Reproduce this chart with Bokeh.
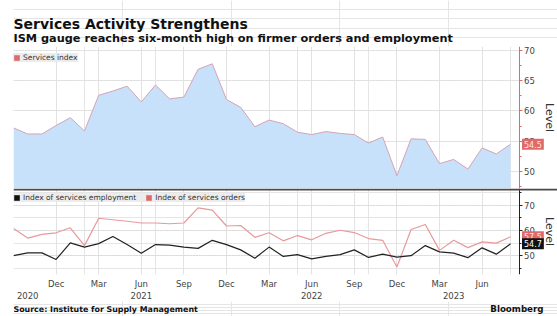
import math
from bokeh.plotting import figure
from bokeh.models import (LinearAxis, FixedTicker, Grid, Label, Legend, LegendItem,
                          Range1d, ColumnDataSource, BoxAnnotation, Span)
from bokeh.layouts import column
from bokeh.embed import file_html
from bokeh.resources import INLINE

# ---------------- data (monthly, Sep 2020 .. Aug 2023) ----------------
months = ["2020-09", "2020-10", "2020-11", "2020-12",
          "2021-01", "2021-02", "2021-03", "2021-04", "2021-05", "2021-06",
          "2021-07", "2021-08", "2021-09", "2021-10", "2021-11", "2021-12",
          "2022-01", "2022-02", "2022-03", "2022-04", "2022-05", "2022-06",
          "2022-07", "2022-08", "2022-09", "2022-10", "2022-11", "2022-12",
          "2023-01", "2023-02", "2023-03", "2023-04", "2023-05", "2023-06",
          "2023-07", "2023-08"]

services_index = [57.2, 56.2, 56.2, 57.6,
                  58.9, 56.7, 62.6, 63.3, 64.1, 61.5, 64.3, 62.0, 62.3, 66.9, 67.8, 61.9,
                  60.6, 57.4, 58.5, 57.9, 56.5, 56.1, 56.6, 56.3, 56.1, 54.7, 55.7, 49.3,
                  55.4, 55.3, 51.3, 52.0, 50.4, 53.9, 52.9, 54.5]

services_employment = [50.0, 51.1, 51.1, 48.5,
                       55.1, 53.4, 54.8, 57.6, 54.4, 51.0, 54.4, 54.2, 53.4, 52.9, 56.1, 54.4,
                       52.3, 49.0, 53.4, 49.7, 50.4, 48.7, 49.7, 50.4, 52.3, 49.3, 50.6, 49.4,
                       50.0, 54.0, 51.5, 51.0, 49.2, 53.1, 50.6, 54.7]

services_orders = [60.8, 57.0, 58.5, 59.1,
                   61.1, 54.0, 64.9, 64.3, 63.7, 63.0, 63.0, 62.7, 63.0, 69.0, 68.1, 61.8,
                   62.0, 57.3, 59.1, 55.9, 58.0, 56.3, 58.9, 60.1, 59.2, 56.8, 56.1, 45.5,
                   60.4, 62.4, 52.1, 56.1, 53.2, 55.5, 55.0, 57.5]

month_tick_labels = ["Dec", "Mar", "Jun", "Sep", "Dec", "Mar", "Jun", "Sep", "Dec", "Mar", "Jun"]
month_tick_months = ["2020-12", "2021-03", "2021-06", "2021-09", "2021-12", "2022-03",
                     "2022-06", "2022-09", "2022-12", "2023-03", "2023-06"]
year_labels = ["2020", "2021", "2022", "2023"]
year_label_months = ["2020-10", "2021-06", "2022-06", "2023-04"]

top_ticks = [50, 55, 60, 65, 70]
top_minor = [47.5, 52.5, 57.5, 62.5, 67.5]
bottom_ticks = [50, 60, 70]
bottom_minor = [45, 55, 65, 75]

# ---------------- styling ----------------
FONT = "DejaVu Sans"
RED = "#e06a6a"
PINK = "#e8999c"
BLUE = "#c8e1fa"
GRID = "#e2e2e2"
TXT = "#444444"
W = 557
AXIS_X = 35.6          # data position of the value axis (just right of the last month)
X_END = 38.31          # right edge of the frames (canvas edge)

x = list(range(len(months)))
pos = {m: i for i, m in enumerate(months)}
month_ticks = [pos[m] for m in month_tick_months]
year_ticks = [pos[m] for m in year_label_months]
src = ColumnDataSource(dict(x=x, svc=services_index, emp=services_employment, ord=services_orders))
xr = Range1d(0, X_END)


def style_value_axis(ax, color):
    ax.fixed_location = AXIS_X
    ax.axis_line_color = color
    ax.major_tick_line_color = color
    ax.minor_tick_line_color = color
    ax.major_tick_out = 3
    ax.major_tick_in = 0
    ax.minor_tick_out = 2
    ax.minor_tick_in = 0
    ax.major_label_standoff = 2
    ax.major_label_text_font = FONT
    ax.major_label_text_font_size = "8.5px"
    ax.major_label_text_color = TXT


def bare(fig):
    fig.outline_line_color = None
    fig.min_border_left = 0
    fig.min_border_right = 0
    fig.min_border_top = 0
    fig.min_border_bottom = 0


# ---------------- header (frame is aligned with the panels: starts at x=13) ----------------
head = figure(width=W, height=46, x_range=Range1d(0, 1), y_range=Range1d(0, 1),
              output_backend="svg", toolbar_location=None,
              x_axis_location=None, y_axis_location=None)
bare(head)
head.min_border_left = 13
head.add_layout(Label(x=0, y=23, x_units="screen", y_units="screen",
                      text="Services Activity Strengthens", text_font=FONT,
                      text_font_style="bold", text_font_size="14px", text_color="#111111",
                      text_baseline="alphabetic"))
head.add_layout(Label(x=0, y=8, x_units="screen", y_units="screen",
                      text="ISM gauge reaches six-month high on firmer orders and employment",
                      text_font=FONT, text_font_style="bold", text_font_size="11.3px",
                      text_color="#111111", text_baseline="alphabetic"))

# ---------------- top panel ----------------
p1 = figure(width=W, height=142, x_range=xr, y_range=Range1d(47.19, 70.66),
            output_backend="svg", toolbar_location=None,
            x_axis_location=None, y_axis_location=None)
bare(p1)
p1.min_border_left = 13

p1.add_layout(Grid(dimension=0, ticker=FixedTicker(ticks=month_ticks), grid_line_color=GRID))
p1.add_layout(Grid(dimension=1, ticker=FixedTicker(ticks=top_ticks), grid_line_color="#d8d8d8",
                   grid_line_dash="1 2"))
p1.add_layout(BoxAnnotation(left=AXIS_X, fill_color="white", fill_alpha=1, line_color=None,
                            level="underlay"))

ax1 = LinearAxis(ticker=FixedTicker(ticks=top_ticks, minor_ticks=top_minor))
style_value_axis(ax1, RED)
p1.add_layout(ax1, "right")

p1.varea(x="x", y1=47.19, y2="svc", source=src, fill_color=BLUE)
p1.line(x="x", y="svc", source=src, line_color="#d3a3b6", line_width=1)

key1 = p1.quad(left="x", right="x", top="svc", bottom="svc", source=src,
               fill_color=RED, line_color=None)
leg1 = Legend(items=[LegendItem(label="Services index", renderers=[key1])],
              location=(0, 126), margin=0, padding=3, spacing=10,
              glyph_width=7, glyph_height=7, label_height=9, label_standoff=3,
              background_fill_color="#ececec", background_fill_alpha=1,
              border_line_color=None, label_text_font=FONT,
              label_text_font_size="7.5px", label_text_color="#333333")
p1.add_layout(leg1)

p1.add_layout(Label(x=AXIS_X, y=services_index[-1], x_offset=3, text=f"{services_index[-1]:.1f}",
                    text_align="left", text_baseline="middle", text_font=FONT,
                    text_font_size="8px", text_color="#ffe6e6",
                    background_fill_color=RED, padding=2))
p1.add_layout(Label(x=536, y=71, x_units="screen", y_units="screen", text="Level",
                    angle=-math.pi / 2, text_align="center", text_baseline="middle",
                    text_font=FONT, text_font_size="11px", text_color="#333333"))

# ---------------- bottom panel ----------------
Y2_TOP, Y2_BOT = 76.73, 42.5
p2 = figure(width=W, height=113, x_range=xr, y_range=Range1d(Y2_BOT, Y2_TOP),
            output_backend="svg", toolbar_location=None,
            x_axis_location=None, y_axis_location=None)
bare(p2)
p2.min_border_left = 13
p2.min_border_bottom = 23

p2.add_layout(Grid(dimension=0, ticker=FixedTicker(ticks=month_ticks), grid_line_color=GRID))
p2.add_layout(Grid(dimension=1, ticker=FixedTicker(ticks=bottom_ticks), grid_line_color="#d0d0d0",
                   grid_line_dash="1 2"))
p2.add_layout(BoxAnnotation(left=AXIS_X, fill_color="white", fill_alpha=1, line_color=None,
                            level="underlay"))

ax2 = LinearAxis(ticker=FixedTicker(ticks=bottom_ticks, minor_ticks=bottom_minor))
style_value_axis(ax2, "#222222")
p2.add_layout(ax2, "right")

xm = LinearAxis(ticker=FixedTicker(ticks=month_ticks),
                major_label_overrides={t: l for t, l in zip(month_ticks, month_tick_labels)})
xy = LinearAxis(ticker=FixedTicker(ticks=year_ticks),
                major_label_overrides={t: l for t, l in zip(year_ticks, year_labels)})
for ax, so in ((xm, 4), (xy, 0)):
    ax.axis_line_color = None
    ax.major_tick_line_color = None
    ax.minor_tick_line_color = None
    ax.major_tick_out = 0
    ax.major_tick_in = 0
    ax.minor_tick_out = 0
    ax.minor_tick_in = 0
    ax.major_label_standoff = so
    ax.major_label_text_font = FONT
    ax.major_label_text_font_size = "8.5px"
    ax.major_label_text_color = TXT
p2.add_layout(xm, "below")
p2.add_layout(xy, "below")

p2.line(x="x", y="ord", source=src, line_color=PINK, line_width=1.2)
p2.line(x="x", y="emp", source=src, line_color="#222222", line_width=1.2)

# dark separator between the two panels (top 2px of the lower frame)
p2.add_layout(Span(location=Y2_TOP - (Y2_TOP - Y2_BOT) / 90.0, dimension="width",
                   line_color="#4a4a4a", line_width=2))

key_emp = p2.quad(left="x", right="x", top="emp", bottom="emp", source=src,
                  fill_color="#111111", line_color=None)
key_ord = p2.quad(left="x", right="x", top="ord", bottom="ord", source=src,
                  fill_color=RED, line_color=None)
leg2 = Legend(items=[LegendItem(label="Index of services employment", renderers=[key_emp]),
                     LegendItem(label="Index of services orders", renderers=[key_ord])],
              location=(0, 72), orientation="horizontal", margin=0, padding=3, spacing=9,
              glyph_width=7, glyph_height=7, label_height=9, label_standoff=3,
              background_fill_color="#ececec", background_fill_alpha=1,
              border_line_color=None, label_text_font=FONT,
              label_text_font_size="7.5px", label_text_color="#333333")
p2.add_layout(leg2)

p2.add_layout(Label(x=AXIS_X, y=services_orders[-1], x_offset=3, text=f"{services_orders[-1]:.1f}",
                    text_align="left", text_baseline="middle", text_font=FONT,
                    text_font_size="8px", text_color="#ffe6e6",
                    background_fill_color=RED, padding=2))
p2.add_layout(Label(x=AXIS_X, y=services_employment[-1], x_offset=3,
                    text=f"{services_employment[-1]:.1f}",
                    text_align="left", text_baseline="middle", text_font=FONT,
                    text_font_size="8px", text_color="#ffffff",
                    background_fill_color="#111111", padding=2))
p2.add_layout(Label(x=536, y=43, x_units="screen", y_units="screen", text="Level",
                    angle=-math.pi / 2, text_align="center", text_baseline="middle",
                    text_font=FONT, text_font_size="11px", text_color="#333333"))

# ---------------- footer ----------------
foot = figure(width=W, height=15, x_range=Range1d(0, 1), y_range=Range1d(0, 1),
              output_backend="svg", toolbar_location=None,
              x_axis_location=None, y_axis_location=None)
bare(foot)
foot.min_border_left = 13
foot.add_layout(Label(x=0, y=7, x_units="screen", y_units="screen",
                      text="Source: Institute for Supply Management", text_font=FONT,
                      text_font_style="bold", text_font_size="7.9px", text_color="#111111",
                      text_baseline="middle"))
foot.add_layout(Label(x=530, y=8, x_units="screen", y_units="screen",
                      text="Bloomberg", text_font=FONT, text_align="right",
                      text_font_style="bold", text_font_size="8.7px", text_color="#111111",
                      text_baseline="middle"))

layout = column(head, p1, p2, foot, spacing=0)
open("out.html", "w").write(file_html(layout, INLINE))
